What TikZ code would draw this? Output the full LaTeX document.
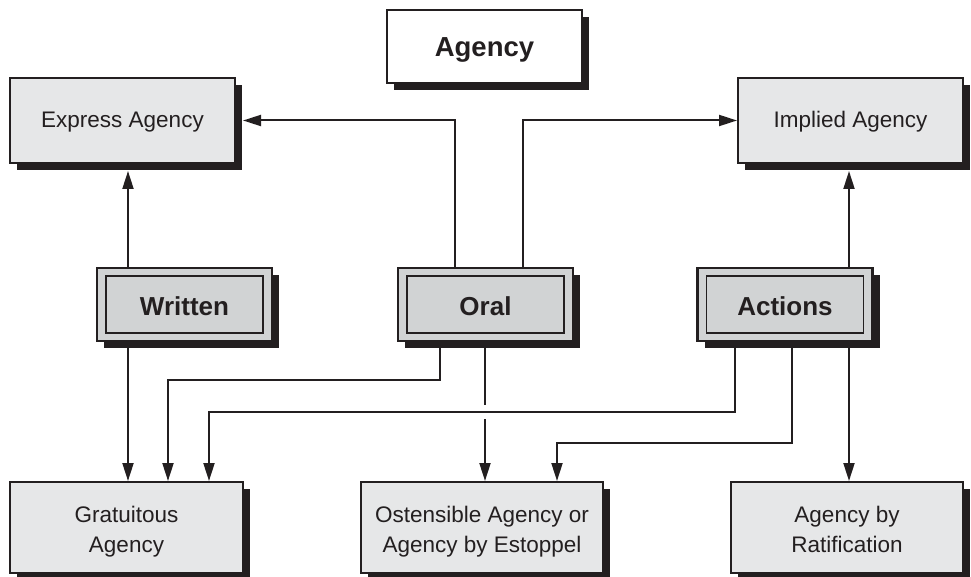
\documentclass[tikz,border=0pt]{standalone}
\usepackage{fontspec}
\setmainfont{Liberation Sans}
\usetikzlibrary{arrows.meta,shadows,calc}
\definecolor{ink}{HTML}{231F20}
\definecolor{boxgray}{HTML}{E6E7E8}
\definecolor{dgray}{HTML}{D1D3D4}
\begin{document}
\begin{tikzpicture}[x=1pt,y=-1pt,
  sh/.style={drop shadow={shadow xshift=7pt,shadow yshift=-7pt,fill=ink,opacity=1}},
  plainbox/.style={draw=ink,line width=2pt,fill=boxgray,sh,align=center,text=ink,
    font=\fontsize{22.5}{30}\selectfont,inner sep=0pt},
  topbox/.style={plainbox,minimum width=225pt,minimum height=85pt,text height=15pt,text depth=0pt},
  botbox/.style={plainbox,minimum height=91pt},
  bottext/.style={align=center,text=ink,font=\fontsize{22.5}{30}\selectfont,inner sep=0pt},
  outerbox/.style={draw=ink,line width=2.6pt,fill=dgray,sh,minimum width=175pt,minimum height=73pt,inner sep=0pt},
  innerbox/.style={draw=ink,line width=1.5pt,minimum width=157pt,minimum height=57pt,inner sep=0pt,
    text=ink,font=\fontsize{26}{30}\selectfont\bfseries,text height=21pt,text depth=0pt},
  arr/.style={draw=ink,line width=2pt,-{Triangle[length=18pt,width=11pt]}},
  ln/.style={draw=ink,line width=2pt}
]
\useasboundingbox (0,0) rectangle (971,577);

% title
\node[draw=ink,line width=2.8pt,fill=white,sh,minimum width=195pt,minimum height=73pt,inner sep=0pt,
  text=ink,font=\fontsize{27.5}{30}\selectfont\bfseries,text height=21pt,text depth=0pt] (agency) at (484.5,46.5) {Agency};

% top boxes
\node[topbox] (express) at (122.5,120.5) {Express Agency};
\node[topbox] (implied) at (850.5,120.5) {Implied Agency};

% middle double boxes
\node[outerbox] (written) at (184.5,304.5) {};
\node[innerbox] (writtenin) at (written.center) {Written};
\node[outerbox] (oral) at (485.5,304.5) {};
\node[innerbox] (oralin) at (oral.center) {Oral};
\node[outerbox] (actions) at (785,304.5) {};
\node[innerbox] (actionsin) at (actions.center) {Actions};

% bottom boxes
\node[botbox,minimum width=233pt] (grat) at (126.5,527.5) {};
\node[bottext] (gratT) at ($(grat.center)+(0,3.5)$) {Gratuitous\strut\\Agency\strut};
\node[botbox,minimum width=242pt] (ost) at (482,527.5) {};
\node[bottext] (ostT) at ($(ost.center)+(0,3.5)$) {Ostensible Agency or\strut\\Agency by Estoppel\strut};
\node[botbox,minimum width=232pt] (rat) at (847,527.5) {};
\node[bottext] (ratT) at ($(rat.center)+(0,3.5)$) {Agency by\strut\\Ratification\strut};

% x positions of connectors
\coordinate (xa) at (128,0);
\coordinate (xb) at (455,0);
\coordinate (xc) at (523,0);
\coordinate (xd) at (849,0);
\coordinate (xe) at (440,0);
\coordinate (xf) at (168,0);
\coordinate (xg) at (485,0);
\coordinate (xh) at (735,0);
\coordinate (xi) at (209,0);
\coordinate (xj) at (792,0);
\coordinate (xk) at (557,0);
% y positions of horizontal runs
\coordinate (h1) at (0,380);
\coordinate (h2) at (0,412);
\coordinate (h3) at (0,443);
\coordinate (g1) at (0,405);
\coordinate (g2) at (0,419);

% upward connectors
\draw[arr,shorten >=7pt] (written.north -| xa) -- (express.south -| xa);
\draw[arr,shorten >=7pt] (oral.north -| xb) |- (express.east);
\draw[arr] (oral.north -| xc) |- (implied.west);
\draw[arr,shorten >=7pt] (actions.north -| xd) -- (implied.south -| xd);

% downward connectors
\draw[arr] (written.south -| xa) -- (grat.north -| xa);
\draw[arr] (oral.south -| xe) |- (h1 -| xf) -- (grat.north -| xf);
\draw[ln] (oral.south -| xg) -- (g1 -| xg);
\draw[arr] (g2 -| xg) -- (ost.north -| xg);
\draw[arr] (actions.south -| xh) |- (h2 -| xi) -- (grat.north -| xi);
\draw[arr] (actions.south -| xj) |- (h3 -| xk) -- (ost.north -| xk);
\draw[arr] (actions.south -| xd) -- (rat.north -| xd);
\end{tikzpicture}
\end{document}
